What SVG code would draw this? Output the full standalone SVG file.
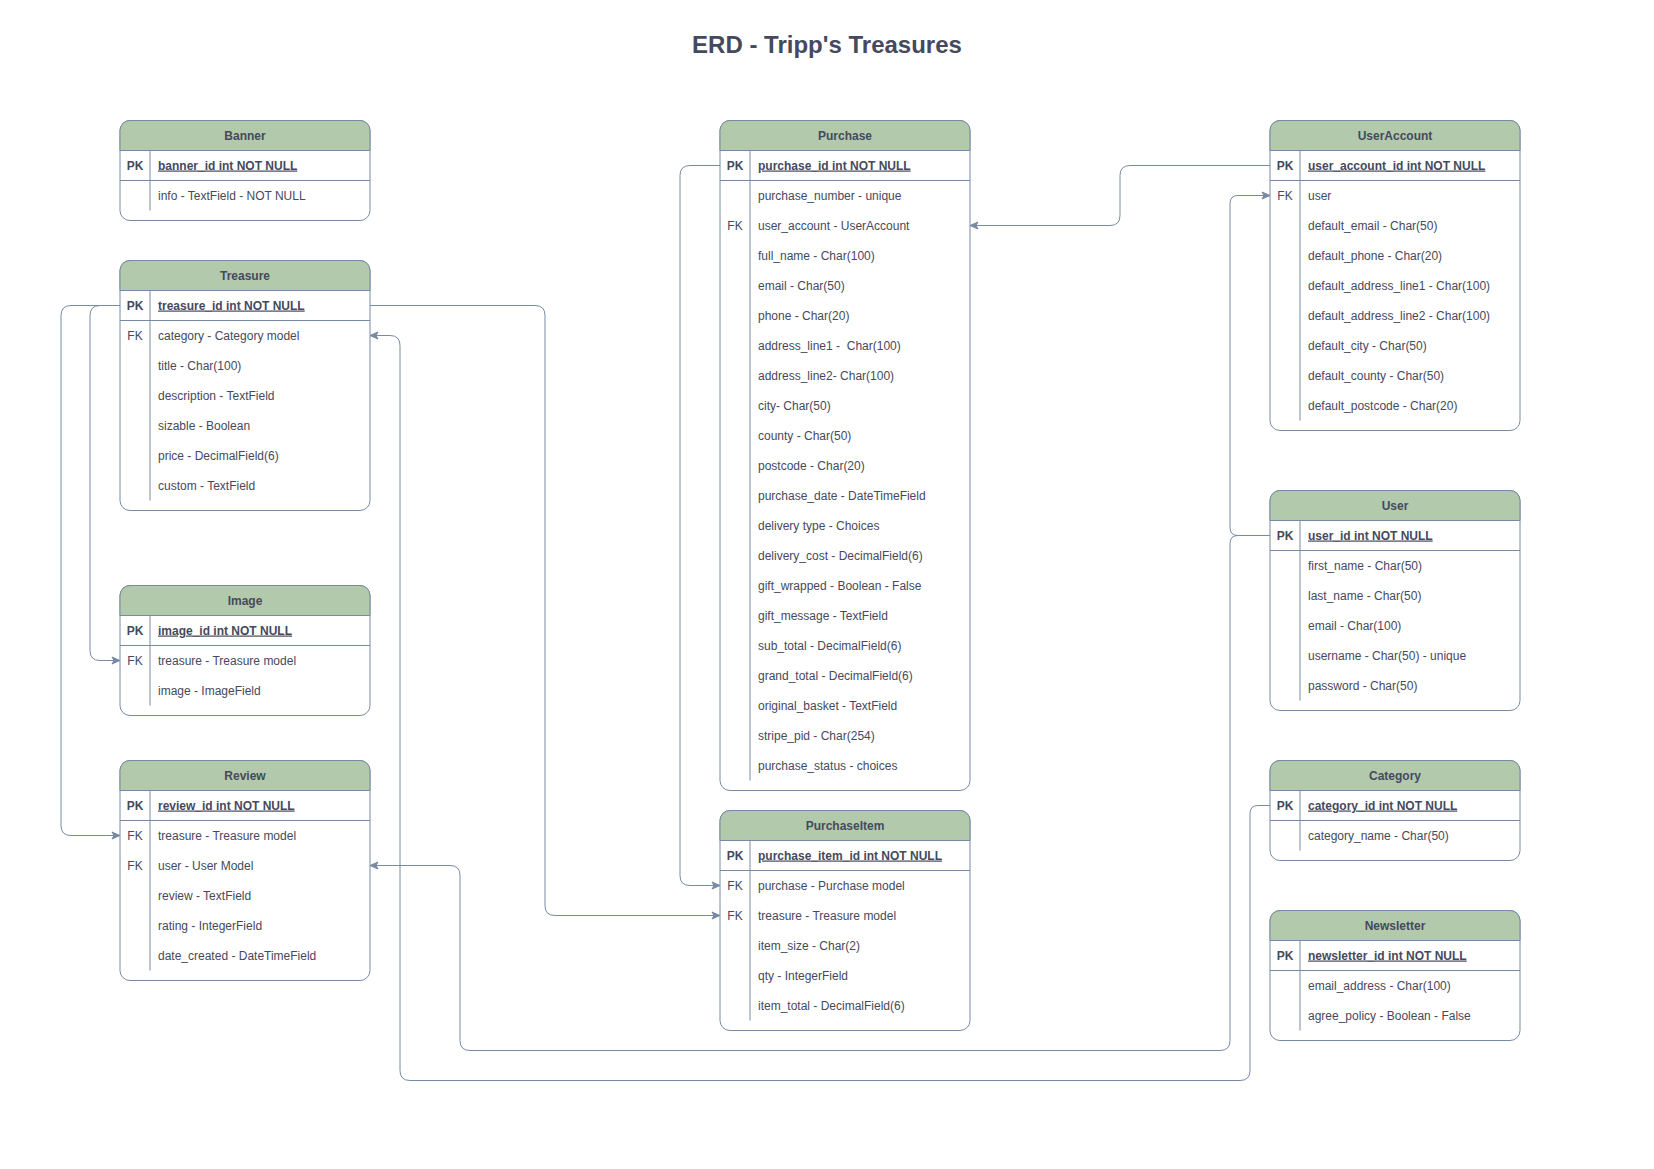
<svg xmlns="http://www.w3.org/2000/svg" width="1654" height="1169" viewBox="0 0 1654 1169">
<style>
.frame{fill:#ffffff;stroke:#788AA3;stroke-width:1}
.head{fill:#B2C9AB;stroke:#788AA3;stroke-width:1}
.ln{stroke:#788AA3;stroke-width:1;fill:none}
text{font-family:"Liberation Sans",Arial,Helvetica,sans-serif;font-size:12px;fill:#46495D}
.ht{font-weight:bold;text-anchor:middle}
.k{text-anchor:middle}
.pk{font-weight:bold;text-anchor:middle}
.pkn{font-weight:bold;text-decoration:underline}
.title{font-size:24px;font-weight:bold;text-anchor:middle}
.conn{stroke:#788AA3;stroke-width:1;fill:none}
</style>
<defs>
<marker id="arr" markerUnits="userSpaceOnUse" markerWidth="10" markerHeight="10" viewBox="0 0 10 10" refX="9" refY="5" orient="auto">
<path d="M1,1.5 L9,5 L1,8.5 L3,5 Z" fill="#788AA3" stroke="#788AA3" stroke-width="1"/>
</marker>
</defs>
<rect width="1654" height="1169" fill="#ffffff"/>
<text class="title" x="827" y="53">ERD - Tripp's Treasures</text>

<g transform="translate(0,0.5)">
<g id="connectors">
<path class="conn" marker-end="url(#arr)" d="M720,165 H690 Q680,165 680,175 V875 Q680,885 690,885 H720"/>
<path class="conn" marker-end="url(#arr)" d="M370,305 H535 Q545,305 545,315 V905 Q545,915 555,915 H720"/>
<path class="conn" marker-end="url(#arr)" d="M120,305 H100 Q90,305 90,315 V650 Q90,660 100,660 H120"/>
<path class="conn" marker-end="url(#arr)" d="M120,305 H71 Q61,305 61,315 V825 Q61,835 71,835 H120"/>
<path class="conn" marker-end="url(#arr)" d="M1270,165 H1130 Q1120,165 1120,175 V215 Q1120,225 1110,225 H970"/>
<path class="conn" marker-end="url(#arr)" d="M1270,535 H1238 Q1230,535 1230,527 V203 Q1230,195 1238,195 H1270"/>
<path class="conn" marker-end="url(#arr)" d="M1270,535 H1238 Q1230,535 1230,543 V1040 Q1230,1050 1220,1050 H470 Q460,1050 460,1040 V875 Q460,865 450,865 H370"/>
<path class="conn" marker-end="url(#arr)" d="M1270,805 H1258 Q1250,805 1250,813 V1070 Q1250,1080 1240,1080 H410 Q400,1080 400,1070 V345 Q400,335 390,335 H370"/>
</g>

<g id="banner" transform="translate(120,120)">
<rect class="frame" x="0" y="0" width="250" height="100" rx="10"/>
<path class="head" d="M0,30 V10 A10,10 0 0 1 10,0 H240 A10,10 0 0 1 250,10 V30 Z"/>
<line class="ln" x1="0" y1="60" x2="250" y2="60"/>
<line class="ln" x1="30" y1="30" x2="30" y2="90"/>
<text class="ht" x="125" y="19">Banner</text>
<text class="pk" x="15" y="49">PK</text>
<text class="pkn" x="38" y="49">banner_id int NOT NULL</text>
<text x="38" y="79">info - TextField - NOT NULL</text>
</g>

<g id="treasure" transform="translate(120,260)">
<rect class="frame" x="0" y="0" width="250" height="250" rx="10"/>
<path class="head" d="M0,30 V10 A10,10 0 0 1 10,0 H240 A10,10 0 0 1 250,10 V30 Z"/>
<line class="ln" x1="0" y1="60" x2="250" y2="60"/>
<line class="ln" x1="30" y1="30" x2="30" y2="240"/>
<text class="ht" x="125" y="19">Treasure</text>
<text class="pk" x="15" y="49">PK</text>
<text class="pkn" x="38" y="49">treasure_id int NOT NULL</text>
<text class="k" x="15" y="79">FK</text>
<text x="38" y="79">category - Category model</text>
<text x="38" y="109">title - Char(100)</text>
<text x="38" y="139">description - TextField</text>
<text x="38" y="169">sizable - Boolean</text>
<text x="38" y="199">price - DecimalField(6)</text>
<text x="38" y="229">custom - TextField</text>
</g>

<g id="image" transform="translate(120,585)">
<rect class="frame" x="0" y="0" width="250" height="130" rx="10"/>
<path class="head" d="M0,30 V10 A10,10 0 0 1 10,0 H240 A10,10 0 0 1 250,10 V30 Z"/>
<line class="ln" x1="0" y1="60" x2="250" y2="60"/>
<line class="ln" x1="30" y1="30" x2="30" y2="120"/>
<text class="ht" x="125" y="19">Image</text>
<text class="pk" x="15" y="49">PK</text>
<text class="pkn" x="38" y="49">image_id int NOT NULL</text>
<text class="k" x="15" y="79">FK</text>
<text x="38" y="79">treasure - Treasure model</text>
<text x="38" y="109">image - ImageField</text>
</g>

<g id="review" transform="translate(120,760)">
<rect class="frame" x="0" y="0" width="250" height="220" rx="10"/>
<path class="head" d="M0,30 V10 A10,10 0 0 1 10,0 H240 A10,10 0 0 1 250,10 V30 Z"/>
<line class="ln" x1="0" y1="60" x2="250" y2="60"/>
<line class="ln" x1="30" y1="30" x2="30" y2="210"/>
<text class="ht" x="125" y="19">Review</text>
<text class="pk" x="15" y="49">PK</text>
<text class="pkn" x="38" y="49">review_id int NOT NULL</text>
<text class="k" x="15" y="79">FK</text>
<text x="38" y="79">treasure - Treasure model</text>
<text class="k" x="15" y="109">FK</text>
<text x="38" y="109">user - User Model</text>
<text x="38" y="139">review - TextField</text>
<text x="38" y="169">rating - IntegerField</text>
<text x="38" y="199">date_created - DateTimeField</text>
</g>

<g id="purchase" transform="translate(720,120)">
<rect class="frame" x="0" y="0" width="250" height="670" rx="10"/>
<path class="head" d="M0,30 V10 A10,10 0 0 1 10,0 H240 A10,10 0 0 1 250,10 V30 Z"/>
<line class="ln" x1="0" y1="60" x2="250" y2="60"/>
<line class="ln" x1="30" y1="30" x2="30" y2="660"/>
<text class="ht" x="125" y="19">Purchase</text>
<text class="pk" x="15" y="49">PK</text>
<text class="pkn" x="38" y="49">purchase_id int NOT NULL</text>
<text x="38" y="79">purchase_number - unique</text>
<text class="k" x="15" y="109">FK</text>
<text x="38" y="109">user_account - UserAccount</text>
<text x="38" y="139">full_name - Char(100)</text>
<text x="38" y="169">email - Char(50)</text>
<text x="38" y="199">phone - Char(20)</text>
<text x="38" y="229" xml:space="preserve">address_line1 -  Char(100)</text>
<text x="38" y="259">address_line2- Char(100)</text>
<text x="38" y="289">city- Char(50)</text>
<text x="38" y="319">county - Char(50)</text>
<text x="38" y="349">postcode - Char(20)</text>
<text x="38" y="379">purchase_date - DateTimeField</text>
<text x="38" y="409">delivery type - Choices</text>
<text x="38" y="439">delivery_cost - DecimalField(6)</text>
<text x="38" y="469">gift_wrapped - Boolean - False</text>
<text x="38" y="499">gift_message - TextField</text>
<text x="38" y="529">sub_total - DecimalField(6)</text>
<text x="38" y="559">grand_total - DecimalField(6)</text>
<text x="38" y="589">original_basket - TextField</text>
<text x="38" y="619">stripe_pid - Char(254)</text>
<text x="38" y="649">purchase_status - choices</text>
</g>

<g id="purchaseitem" transform="translate(720,810)">
<rect class="frame" x="0" y="0" width="250" height="220" rx="10"/>
<path class="head" d="M0,30 V10 A10,10 0 0 1 10,0 H240 A10,10 0 0 1 250,10 V30 Z"/>
<line class="ln" x1="0" y1="60" x2="250" y2="60"/>
<line class="ln" x1="30" y1="30" x2="30" y2="210"/>
<text class="ht" x="125" y="19">PurchaseItem</text>
<text class="pk" x="15" y="49">PK</text>
<text class="pkn" x="38" y="49">purchase_item_id int NOT NULL</text>
<text class="k" x="15" y="79">FK</text>
<text x="38" y="79">purchase - Purchase model</text>
<text class="k" x="15" y="109">FK</text>
<text x="38" y="109">treasure - Treasure model</text>
<text x="38" y="139">item_size - Char(2)</text>
<text x="38" y="169">qty - IntegerField</text>
<text x="38" y="199">item_total - DecimalField(6)</text>
</g>

<g id="useraccount" transform="translate(1270,120)">
<rect class="frame" x="0" y="0" width="250" height="310" rx="10"/>
<path class="head" d="M0,30 V10 A10,10 0 0 1 10,0 H240 A10,10 0 0 1 250,10 V30 Z"/>
<line class="ln" x1="0" y1="60" x2="250" y2="60"/>
<line class="ln" x1="30" y1="30" x2="30" y2="300"/>
<text class="ht" x="125" y="19">UserAccount</text>
<text class="pk" x="15" y="49">PK</text>
<text class="pkn" x="38" y="49">user_account_id int NOT NULL</text>
<text class="k" x="15" y="79">FK</text>
<text x="38" y="79">user</text>
<text x="38" y="109">default_email - Char(50)</text>
<text x="38" y="139">default_phone - Char(20)</text>
<text x="38" y="169">default_address_line1 - Char(100)</text>
<text x="38" y="199">default_address_line2 - Char(100)</text>
<text x="38" y="229">default_city - Char(50)</text>
<text x="38" y="259">default_county - Char(50)</text>
<text x="38" y="289">default_postcode - Char(20)</text>
</g>

<g id="user" transform="translate(1270,490)">
<rect class="frame" x="0" y="0" width="250" height="220" rx="10"/>
<path class="head" d="M0,30 V10 A10,10 0 0 1 10,0 H240 A10,10 0 0 1 250,10 V30 Z"/>
<line class="ln" x1="0" y1="60" x2="250" y2="60"/>
<line class="ln" x1="30" y1="30" x2="30" y2="210"/>
<text class="ht" x="125" y="19">User</text>
<text class="pk" x="15" y="49">PK</text>
<text class="pkn" x="38" y="49">user_id int NOT NULL</text>
<text x="38" y="79">first_name - Char(50)</text>
<text x="38" y="109">last_name - Char(50)</text>
<text x="38" y="139">email - Char(100)</text>
<text x="38" y="169">username - Char(50) - unique</text>
<text x="38" y="199">password - Char(50)</text>
</g>

<g id="category" transform="translate(1270,760)">
<rect class="frame" x="0" y="0" width="250" height="100" rx="10"/>
<path class="head" d="M0,30 V10 A10,10 0 0 1 10,0 H240 A10,10 0 0 1 250,10 V30 Z"/>
<line class="ln" x1="0" y1="60" x2="250" y2="60"/>
<line class="ln" x1="30" y1="30" x2="30" y2="90"/>
<text class="ht" x="125" y="19">Category</text>
<text class="pk" x="15" y="49">PK</text>
<text class="pkn" x="38" y="49">category_id int NOT NULL</text>
<text x="38" y="79">category_name - Char(50)</text>
</g>

<g id="newsletter" transform="translate(1270,910)">
<rect class="frame" x="0" y="0" width="250" height="130" rx="10"/>
<path class="head" d="M0,30 V10 A10,10 0 0 1 10,0 H240 A10,10 0 0 1 250,10 V30 Z"/>
<line class="ln" x1="0" y1="60" x2="250" y2="60"/>
<line class="ln" x1="30" y1="30" x2="30" y2="120"/>
<text class="ht" x="125" y="19">Newsletter</text>
<text class="pk" x="15" y="49">PK</text>
<text class="pkn" x="38" y="49">newsletter_id int NOT NULL</text>
<text x="38" y="79">email_address - Char(100)</text>
<text x="38" y="109">agree_policy - Boolean - False</text>
</g>
</g>
</svg>
